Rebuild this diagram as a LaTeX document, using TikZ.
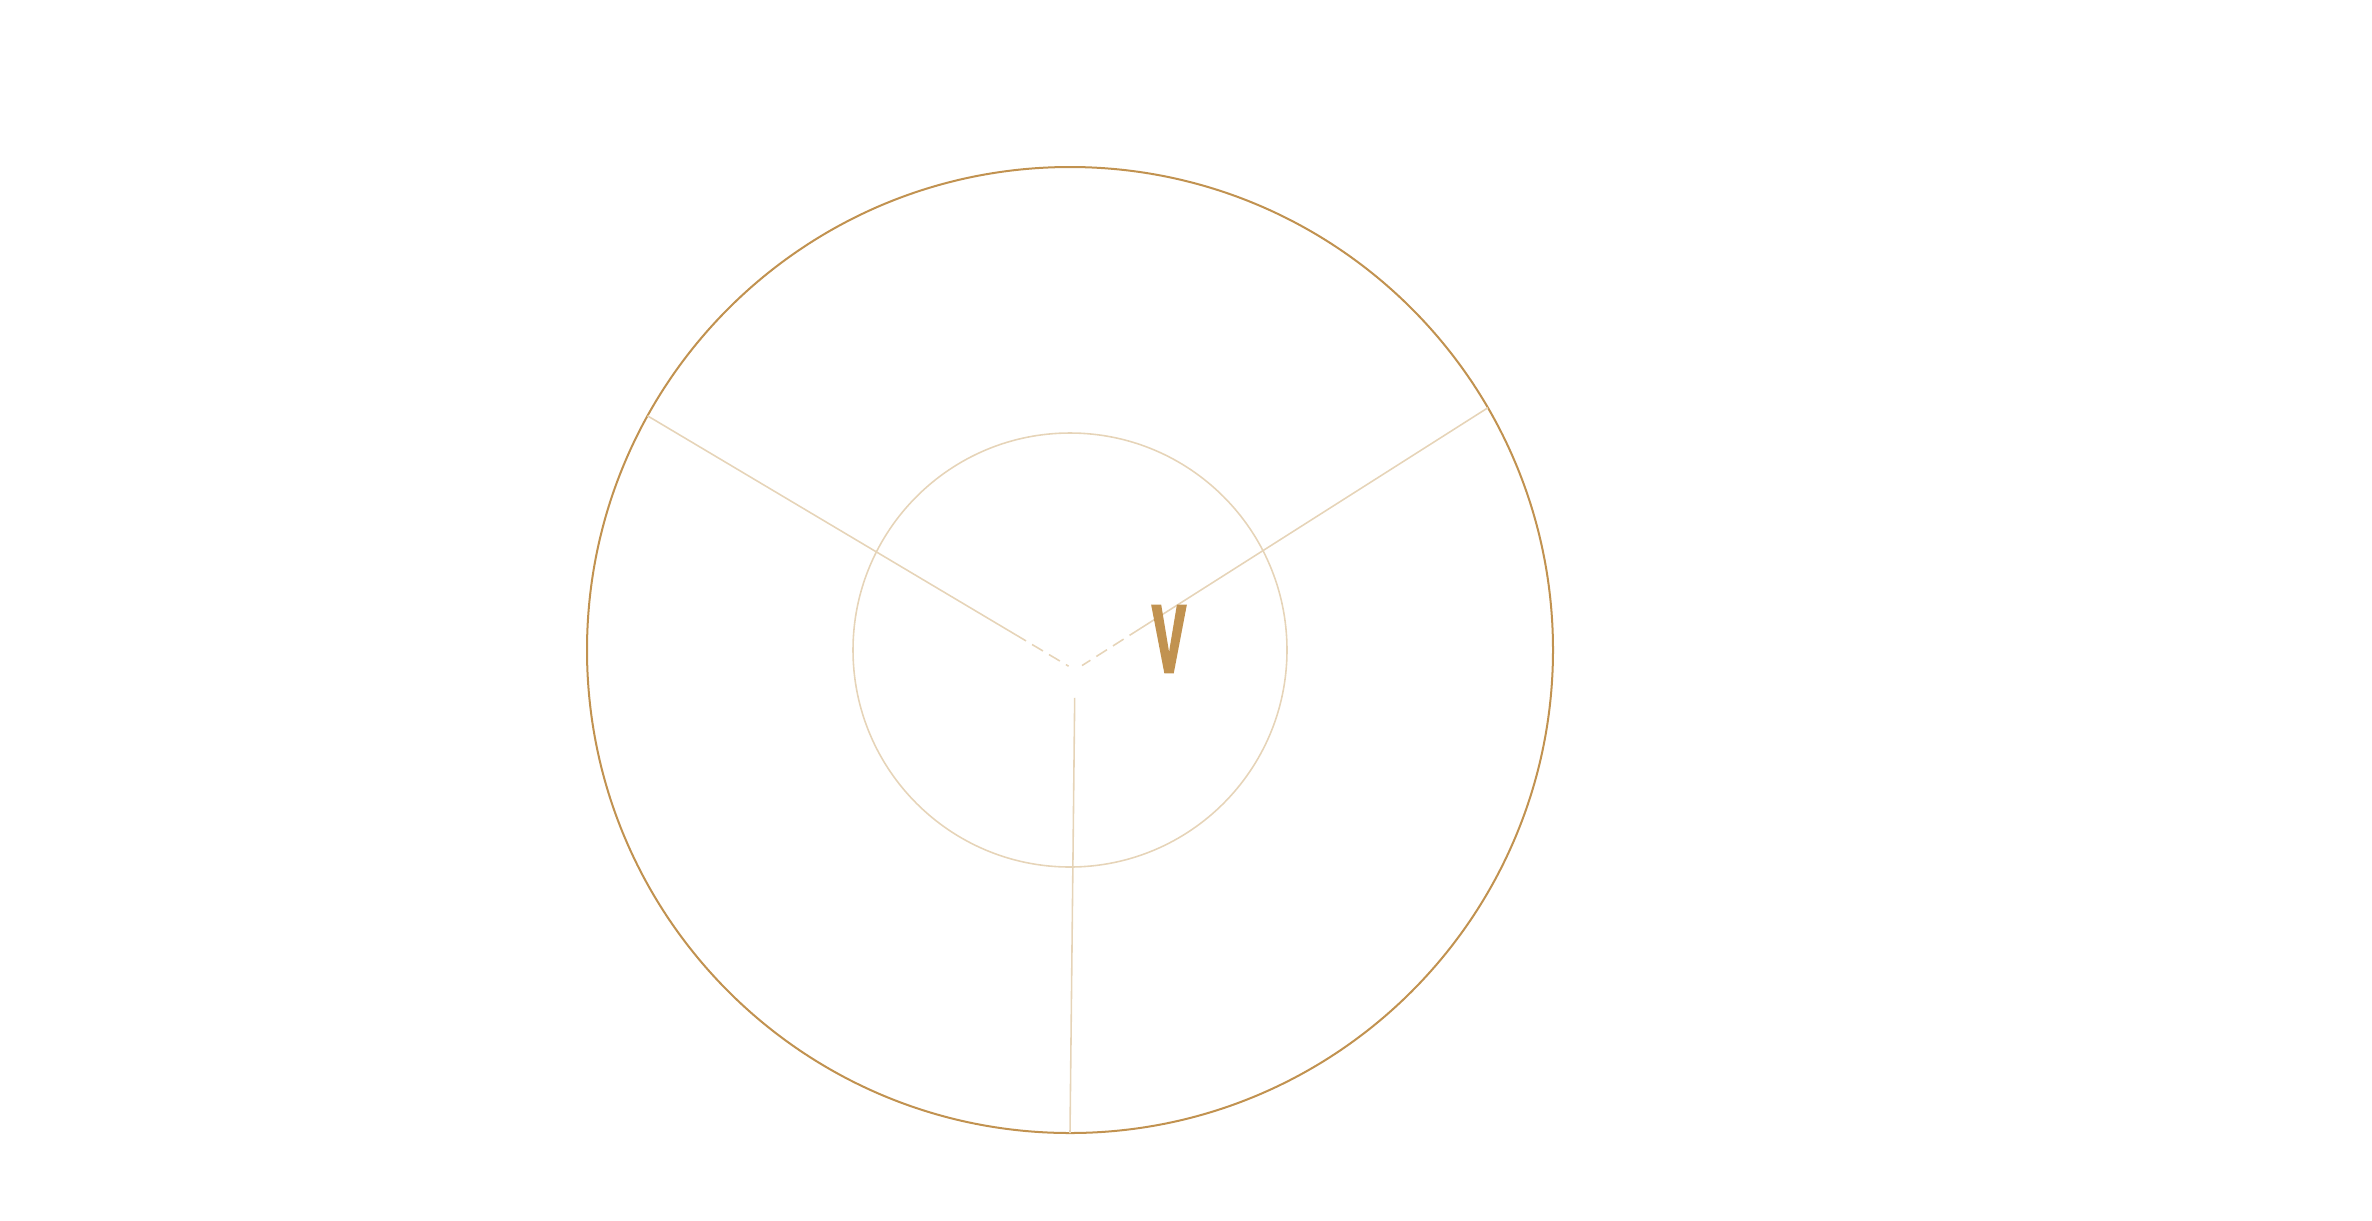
\documentclass[tikz,border=0pt]{standalone}
\usepackage{fontspec}
\setmainfont{Liberation Sans}
\newfontfamily\labelfont[FakeStretch=0.52, FakeBold=2.5]{Liberation Sans Bold}
\usetikzlibrary{calc, positioning}

\definecolor{gold}{RGB}{193,146,80}
\definecolor{sand}{RGB}{230,212,184}

\begin{document}
\begin{tikzpicture}[
        rim/.style={draw=gold, line width=0.57pt},
        core/.style={draw=sand, line width=0.45pt},
        spoke/.style={draw=sand, line width=0.45pt},
        hidden/.style={spoke, dash pattern=on 3.6pt off 2pt}
    ]
        \useasboundingbox (0,0) rectangle (23.72,-12.20);
        \coordinate (centre) at (10.70,-6.50);
        \coordinate (apex) at (10.75,-6.70);

        % the two circles
        \draw[rim] (centre) circle (4.83);
        \draw[core] (centre) circle (2.17);

        % ends of the spokes on the rim
        \coordinate (left) at ($(centre)+(151:4.83)$);
        \coordinate (right) at ($(centre)+(30.1:4.83)$);
        \coordinate (down) at ($(centre)+(270:4.83)$);
        \coordinate (leftcut) at ($(left)!0.86!(apex)$);
        \coordinate (leftend) at ($(left)!0.985!(apex)$);
        \coordinate (rightcut) at ($(right)!0.842!(apex)$);
        \coordinate (rightend) at ($(right)!0.983!(apex)$);
        \coordinate (downend) at ($(down)!0.94!(apex)$);

        % spokes, dashed near the apex
        \draw[spoke] (left) -- (leftcut);
        \draw[hidden] (leftcut) -- (leftend);
        \draw[spoke] (right) -- (rightcut);
        \draw[hidden] (rightcut) -- (rightend);
        \draw[spoke] (down) -- (downend);

        \node[text=gold, font=\labelfont\fontsize{27.5}{30}\selectfont, inner sep=0pt] (vlabel) at (11.69,-6.39) {V};
    \end{tikzpicture}
\end{document}
